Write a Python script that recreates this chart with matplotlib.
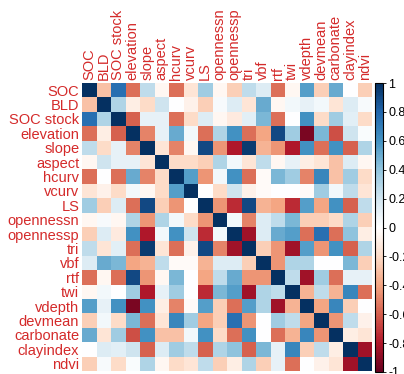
import numpy as np
import matplotlib
matplotlib.use("Agg")
import matplotlib.pyplot as plt
from matplotlib.colors import LinearSegmentedColormap, Normalize
from matplotlib.colorbar import ColorbarBase

variables = ["SOC", "BLD", "SOC stock", "elevation", "slope", "aspect", "hcurv",
             "vcurv", "LS", "opennessn", "opennessp", "tri", "vbf", "rtf", "twi",
             "vdepth", "devmean", "carbonate", "clayindex", "ndvi"]

# upper-triangle rows (correlation of variable i with variables i..19)
r_SOC = [1, -0.3, 0.75, -0.55, 0.25, -0.05, -0.55, -0.15, 0.35, -0.05, -0.25, 0.25, 0.15, -0.55, -0.05, 0.55, -0.25, 0.5, 0.0, -0.25]
r_BLD = [1, 0.3, -0.1, -0.2, 0.2, 0.0, -0.08, -0.25, 0.03, 0.15, -0.15, 0.5, -0.05, 0.05, 0.1, 0.05, -0.15, 0.15, 0.03]
r_SOCstock = [1, -0.6, 0.1, 0.1, -0.55, -0.2, 0.15, -0.05, -0.12, 0.12, 0.45, -0.55, 0.0, 0.6, -0.2, 0.35, 0.12, -0.2]
r_elevation = [1, -0.5, 0.1, 0.5, 0.05, -0.55, 0.3, 0.6, -0.55, -0.4, 0.9, 0.35, -0.95, 0.45, -0.65, 0.2, 0.02]
r_slope = [1, -0.15, -0.5, -0.05, 0.9, -0.45, -0.8, 0.95, -0.35, -0.45, -0.8, 0.6, -0.55, 0.6, -0.6, 0.3]
r_aspect = [1, -0.2, -0.2, -0.25, 0.3, 0.05, -0.15, 0.25, -0.05, 0.1, -0.1, -0.15, -0.3, 0.15, -0.05]
r_hcurv = [1, 0.55, -0.45, 0.05, 0.6, -0.55, -0.03, 0.45, 0.35, -0.5, 0.65, -0.3, 0.35, -0.2]
r_vcurv = [1, 0.0, -0.2, 0.2, -0.08, -0.03, 0.0, 0.0, -0.03, 0.35, 0.05, 0.25, -0.15]
r_LS = [1, -0.45, -0.75, 0.9, -0.35, -0.4, -0.75, 0.55, -0.4, 0.6, -0.6, 0.25]
r_opennessn = [1, 0.05, -0.5, 0.15, 0.25, 0.45, -0.25, -0.25, -0.2, 0.3, -0.25]
r_opennessp = [1, -0.85, 0.15, 0.5, 0.55, -0.55, 0.75, -0.55, 0.4, -0.1]
r_tri = [1, -0.25, -0.45, -0.85, 0.55, -0.45, 0.6, -0.6, 0.3]
r_vbf = [1, -0.45, 0.3, 0.3, 0.0, 0.0, 0.45, -0.25]
r_rtf = [1, 0.25, -0.85, 0.35, -0.55, 0.1, 0.1]
r_twi = [1, -0.35, 0.25, -0.35, 0.65, -0.55]
r_vdepth = [1, -0.4, 0.65, -0.25, 0.0]
r_devmean = [1, -0.45, 0.25, -0.08]
r_carbonate = [1, -0.1, -0.15]
r_clayindex = [1, -0.85]
r_ndvi = [1]

rows = [r_SOC, r_BLD, r_SOCstock, r_elevation, r_slope, r_aspect, r_hcurv, r_vcurv,
        r_LS, r_opennessn, r_opennessp, r_tri, r_vbf, r_rtf, r_twi, r_vdepth,
        r_devmean, r_carbonate, r_clayindex, r_ndvi]

n = len(variables)
M = np.zeros((n, n))
for i, r in enumerate(rows):
    for k, v in enumerate(r):
        M[i, i + k] = v
        M[i + k, i] = v

cols = ["#67001F", "#B2182B", "#D6604D", "#F4A582", "#FDDBC7", "#FFFFFF",
        "#D1E5F0", "#92C5DE", "#4393C3", "#2166AC", "#053061"]
cmap = LinearSegmentedColormap.from_list("corr", cols, N=200)
norm = Normalize(-1, 1)

plt.rcParams['font.family'] = ['Liberation Sans', 'DejaVu Sans']
W, H = 404, 374
fig = plt.figure(figsize=(W / 100, H / 100), dpi=100)

gx0, gx1, gy0, gy1 = 82, 372, 83, 371
ax = fig.add_axes([gx0 / W, 1 - gy1 / H, (gx1 - gx0) / W, (gy1 - gy0) / H])
ax.pcolormesh(np.arange(n + 1), np.arange(n + 1), M, cmap=cmap, norm=norm,
              edgecolors="none", antialiased=False)
ax.set_xlim(0, n)
ax.set_ylim(n, 0)
for s in ax.spines.values():
    s.set_visible(False)
ax.set_xticks(np.arange(n) + 0.5)
ax.set_yticks(np.arange(n) + 0.5)
ax.xaxis.tick_top()
ax.set_xticklabels(variables, rotation=90, color="#D42A2A", fontsize=10.5)
ax.set_yticklabels(variables, color="#D42A2A", fontsize=10.5)
ax.tick_params(length=0, pad=2)

cax = fig.add_axes([375 / W, 1 - 372 / H, 8 / W, (372 - 83) / H])
cb = ColorbarBase(cax, cmap=cmap, norm=norm, orientation="vertical")
cb.set_ticks(np.linspace(-1, 1, 11))
cb.set_ticklabels(["-1", "-0.8", "-0.6", "-0.4", "-0.2", "0", "0.2", "0.4", "0.6", "0.8", "1"])
cax.tick_params(labelsize=9, length=2, width=0.6, pad=2)
cb.outline.set_linewidth(0.8)

fig.savefig("out.png", dpi=100)
